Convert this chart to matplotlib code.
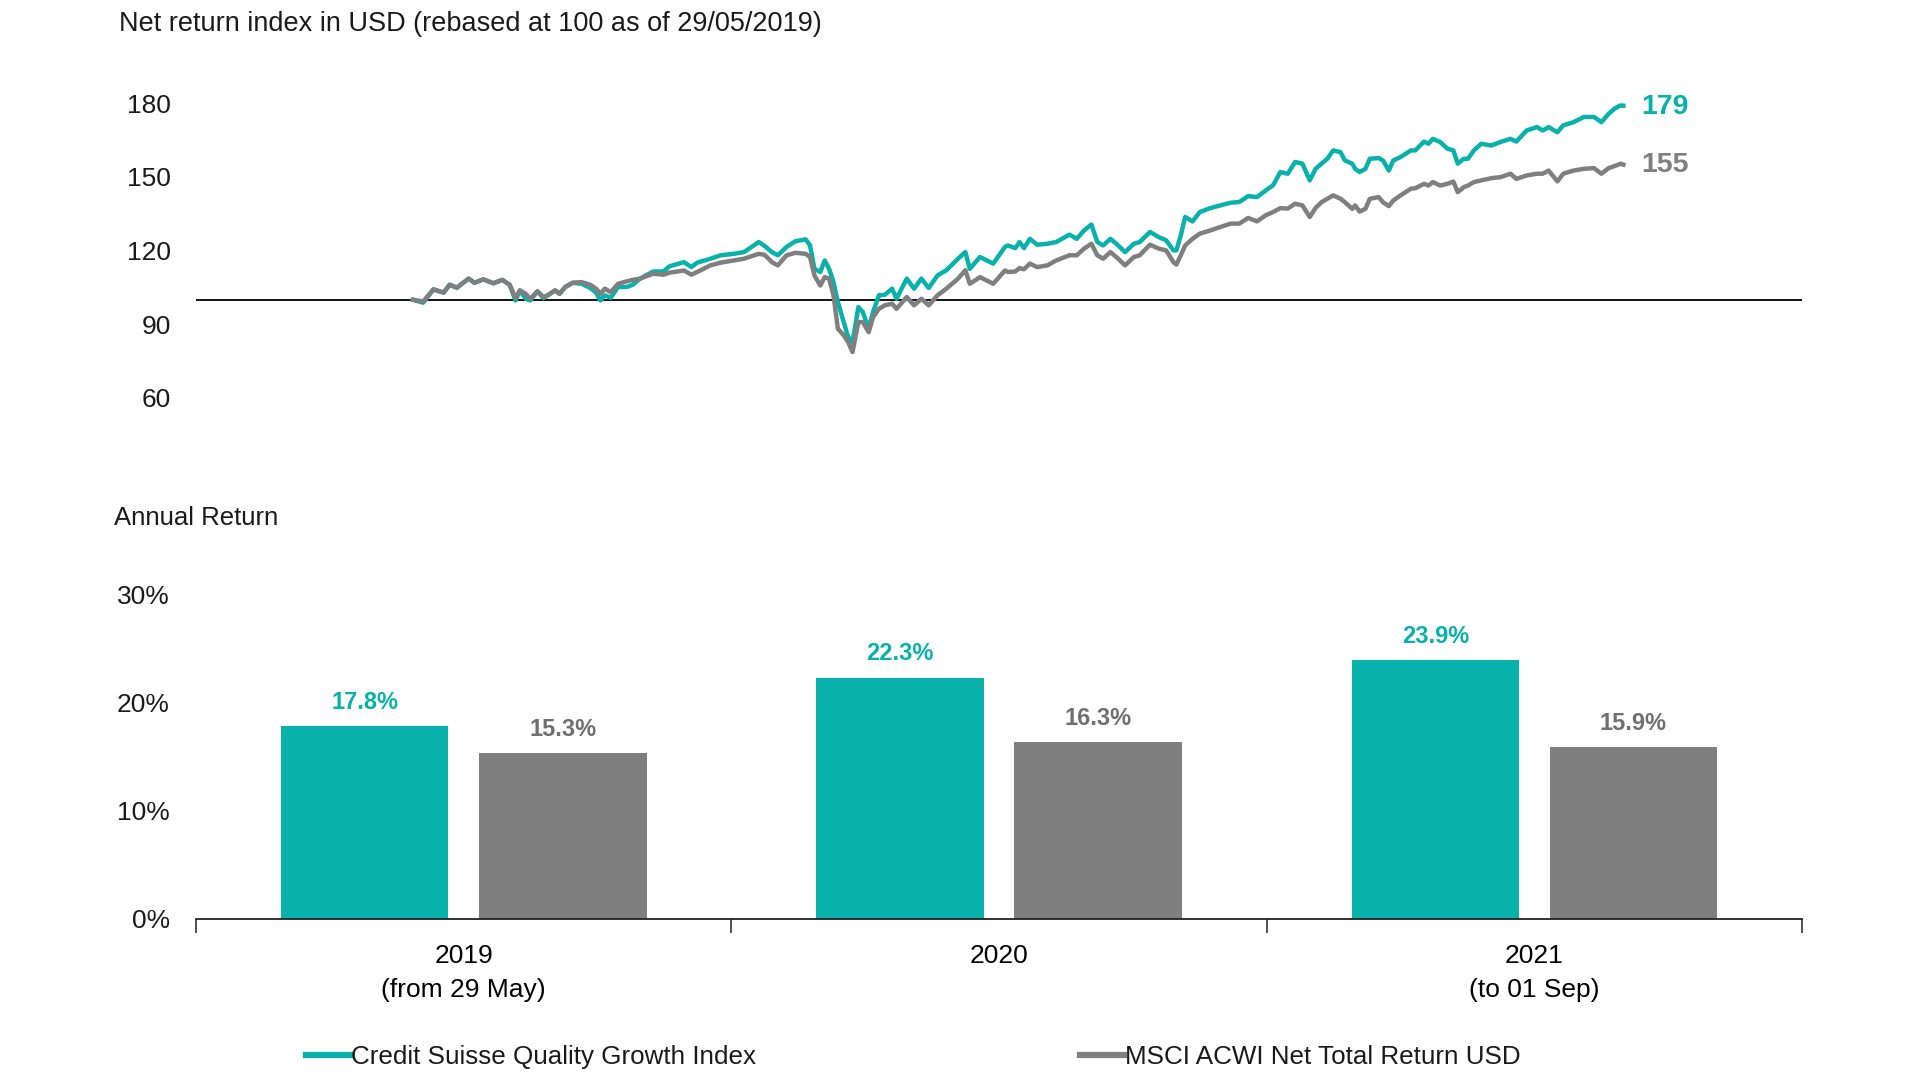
#!/usr/bin/env python3
"""
Net return index (rebased 100) and annual returns: CS Quality Growth vs MSCI ACWI.
"""

import matplotlib
matplotlib.use('Agg')
import matplotlib.pyplot as plt
import numpy as np
import pandas as pd

plt.rcParams['font.family'] = ['Liberation Sans', 'DejaVu Sans']
plt.rcParams['text.color'] = '#1a1a1a'

TEAL = '#08B1A9'
GREY = '#7F7F7F'

# ---- index levels ----
dates = [
    '2019-05-29', '2019-06-05', '2019-06-12', '2019-06-19', '2019-06-23', '2019-06-28',
    '2019-07-06', '2019-07-10', '2019-07-16', '2019-07-23', '2019-07-29', '2019-08-03',
    '2019-08-07', '2019-08-10', '2019-08-14', '2019-08-17', '2019-08-22', '2019-08-26',
    '2019-08-29', '2019-09-03', '2019-09-06', '2019-09-10', '2019-09-15', '2019-09-21',
    '2019-09-27', '2019-10-01', '2019-10-04', '2019-10-07', '2019-10-11', '2019-10-16',
    '2019-10-22', '2019-10-26', '2019-10-31', '2019-11-09', '2019-11-16', '2019-11-20',
    '2019-11-30', '2019-12-05', '2019-12-09', '2019-12-18', '2019-12-25', '2020-01-03',
    '2020-01-10', '2020-01-20', '2020-01-24', '2020-01-29', '2020-02-02', '2020-02-08',
    '2020-02-14', '2020-02-21', '2020-02-24', '2020-02-27', '2020-03-02', '2020-03-05',
    '2020-03-08', '2020-03-11', '2020-03-14', '2020-03-18', '2020-03-21', '2020-03-24',
    '2020-03-28', '2020-03-31', '2020-04-04', '2020-04-07', '2020-04-11', '2020-04-15',
    '2020-04-20', '2020-04-23', '2020-04-30', '2020-05-05', '2020-05-10', '2020-05-15',
    '2020-05-21', '2020-05-27', '2020-06-04', '2020-06-09', '2020-06-12', '2020-06-19',
    '2020-06-28', '2020-07-06', '2020-07-08', '2020-07-13', '2020-07-16', '2020-07-19',
    '2020-07-23', '2020-07-28', '2020-08-04', '2020-08-10', '2020-08-19', '2020-08-24',
    '2020-08-29', '2020-09-03', '2020-09-07', '2020-09-11', '2020-09-16', '2020-09-20',
    '2020-09-26', '2020-10-02', '2020-10-06', '2020-10-13', '2020-10-19', '2020-10-24',
    '2020-10-29', '2020-10-31', '2020-11-03', '2020-11-06', '2020-11-11', '2020-11-16',
    '2020-11-23', '2020-11-30', '2020-12-07', '2020-12-13', '2020-12-19', '2020-12-25',
    '2020-12-31', '2021-01-05', '2021-01-10', '2021-01-15', '2021-01-20', '2021-01-25',
    '2021-01-30', '2021-02-03', '2021-02-07', '2021-02-11', '2021-02-15', '2021-02-20',
    '2021-02-23', '2021-02-28', '2021-03-02', '2021-03-05', '2021-03-09', '2021-03-12',
    '2021-03-18', '2021-03-21', '2021-03-25', '2021-03-28', '2021-04-02', '2021-04-09',
    '2021-04-12', '2021-04-18', '2021-04-21', '2021-04-24', '2021-04-29', '2021-05-04',
    '2021-05-08', '2021-05-11', '2021-05-15', '2021-05-18', '2021-05-22', '2021-05-27',
    '2021-06-03', '2021-06-09', '2021-06-16', '2021-06-20', '2021-06-27', '2021-07-04',
    '2021-07-08', '2021-07-12', '2021-07-18', '2021-07-22', '2021-07-29', '2021-08-05',
    '2021-08-12', '2021-08-17', '2021-08-22', '2021-08-26', '2021-08-30', '2021-09-01',
]

cs_quality_growth = [
    100.0, 98.8, 104.2, 102.9, 106.1, 104.9,
    108.6, 106.9, 108.3, 106.7, 108.1, 106.1,
    99.7, 103.8, 100.4, 99.7, 103.4, 100.7,
    101.8, 103.8, 102.4, 105.2, 106.9, 106.5,
    104.8, 102.9, 99.7, 101.8, 100.8, 105.2,
    105.2, 106.1, 108.6, 111.5, 111.5, 113.6,
    115.3, 113.3, 115.1, 116.7, 118.1, 118.7,
    119.4, 123.5, 121.9, 119.4, 118.1, 121.5,
    123.8, 124.6, 122.1, 112.6, 111.3, 116.0,
    112.6, 107.2, 99.0, 90.9, 84.8, 82.8,
    97.0, 95.0, 88.2, 95.0, 101.8, 102.0,
    104.5, 100.4, 108.6, 104.5, 108.6, 104.8,
    109.9, 112.0, 116.7, 119.4, 112.6, 117.4,
    114.7, 121.5, 122.1, 121.0, 123.5, 121.0,
    124.8, 122.4, 122.8, 123.5, 126.5, 124.8,
    128.2, 130.6, 123.5, 122.1, 124.8, 122.8,
    119.4, 122.8, 123.5, 127.6, 125.5, 124.2,
    120.1, 120.1, 126.2, 133.7, 131.9, 135.7,
    137.3, 138.4, 139.5, 139.8, 142.2, 141.8,
    144.5, 146.6, 152.0, 151.3, 156.1, 155.4,
    148.6, 153.3, 155.4, 157.4, 160.8, 160.1,
    156.7, 155.4, 153.3, 152.0, 153.3, 157.4,
    157.7, 156.7, 152.6, 156.7, 158.1, 160.8,
    160.8, 164.4, 163.5, 165.5, 164.2, 161.5,
    160.8, 155.4, 157.4, 157.4, 160.8, 163.5,
    162.8, 164.2, 165.5, 164.4, 168.9, 170.3,
    168.9, 170.3, 168.2, 171.0, 172.3, 174.4,
    174.4, 172.3, 175.7, 177.8, 179.1, 179.0,
]

msci_acwi = [
    100.0, 99.3, 104.2, 102.9, 106.1, 104.9,
    108.6, 106.9, 108.3, 106.7, 108.1, 106.1,
    100.7, 103.8, 102.4, 100.4, 103.4, 101.1,
    101.8, 103.8, 102.4, 105.2, 106.9, 107.2,
    106.1, 104.5, 102.4, 104.5, 103.1, 106.5,
    107.5, 108.1, 108.6, 110.6, 110.2, 111.0,
    111.9, 110.2, 111.3, 114.0, 115.1, 116.0,
    116.7, 118.7, 118.3, 115.3, 114.0, 118.1,
    119.1, 118.7, 117.4, 109.9, 105.8, 109.2,
    108.6, 101.8, 88.2, 85.5, 82.8, 78.7,
    90.9, 90.9, 86.8, 92.9, 96.3, 97.7,
    98.4, 96.3, 101.1, 97.7, 100.4, 97.7,
    101.8, 104.5, 108.6, 112.0, 106.5, 109.2,
    106.5, 111.9, 111.3, 111.5, 112.9, 112.4,
    114.7, 113.3, 114.0, 116.0, 118.1, 118.1,
    120.8, 122.8, 118.1, 116.7, 119.4, 117.4,
    114.0, 117.4, 118.1, 122.4, 120.8, 120.1,
    115.3, 114.3, 118.1, 122.1, 124.8, 126.9,
    128.2, 129.6, 131.0, 131.0, 133.3, 131.9,
    134.4, 135.7, 137.3, 137.1, 139.1, 138.4,
    133.7, 137.4, 139.7, 141.1, 142.5, 141.1,
    139.7, 137.0, 138.4, 135.9, 137.0, 141.1,
    141.8, 139.7, 138.1, 140.4, 142.5, 145.2,
    145.4, 147.2, 146.5, 147.9, 146.5, 147.2,
    148.1, 143.8, 145.8, 146.5, 147.9, 148.6,
    149.5, 149.9, 151.3, 149.2, 150.6, 151.3,
    151.3, 152.6, 148.2, 151.3, 152.6, 153.3,
    153.6, 151.3, 153.6, 154.4, 155.4, 155.0,
]

# ---- annual returns ----
years = ['2019\n(from 29 May)', '2020', '2021\n(to 01 Sep)']
cs_annual = [17.8, 22.3, 23.9]
msci_annual = [15.3, 16.3, 15.9]

series_names = ['Credit Suisse Quality Growth Index', 'MSCI ACWI Net Total Return USD']

dates = pd.to_datetime(dates)

fig = plt.figure(figsize=(19.2, 10.8), dpi=100)

# ---------------- top: index lines ----------------
ax1 = fig.add_axes([0.1021, 0.6315, 0.8365, 0.2729])
l_cs, = ax1.plot(dates, cs_quality_growth, color=TEAL, lw=3.2, solid_joinstyle='round', zorder=3)
l_ms, = ax1.plot(dates, msci_acwi, color=GREY, lw=3.2, solid_joinstyle='round', zorder=4)
ax1.axhline(100, color='black', lw=1.3, zorder=2)

ax1.set_xlim(pd.Timestamp('2019-01-01'), pd.Timestamp('2022-01-01'))
ax1.set_ylim(60, 180)
ax1.set_yticks([60, 90, 120, 150, 180])
ax1.set_xticks([])
ax1.tick_params(axis='y', length=0, pad=18, labelsize=19, labelcolor='#1a1a1a')
for s in ax1.spines.values():
    s.set_visible(False)

ax1.annotate(f'{cs_quality_growth[-1]:.0f}', xy=(dates[-1], cs_quality_growth[-1]),
             xytext=(13, -1), textcoords='offset points', va='center', ha='left',
             fontsize=20.5, fontweight='bold', color=TEAL)
ax1.annotate(f'{msci_acwi[-1]:.0f}', xy=(dates[-1], msci_acwi[-1]),
             xytext=(13, 0), textcoords='offset points', va='center', ha='left',
             fontsize=20.5, fontweight='bold', color=GREY)

fig.text(119 / 1920, 1 - 24 / 1080, 'Net return index in USD (rebased at 100 as of 29/05/2019)',
         fontsize=19.5, va='center', ha='left')

# ---------------- bottom: annual returns ----------------
ax2 = fig.add_axes([0.1021, 0.1495, 0.8365, 0.3002])
x = np.arange(len(years))
width = 0.313
off = 0.185
b1 = ax2.bar(x - off, cs_annual, width, color=TEAL, zorder=2)
b2 = ax2.bar(x + off, msci_annual, width, color=GREY, zorder=2)

for rect, val in zip(b1, cs_annual):
    ax2.annotate(f'{val:.1f}%', xy=(rect.get_x() + rect.get_width() / 2, val),
                 xytext=(0, 17), textcoords='offset points', ha='center', va='center',
                 fontsize=17, fontweight='bold', color=TEAL)
for rect, val in zip(b2, msci_annual):
    ax2.annotate(f'{val:.1f}%', xy=(rect.get_x() + rect.get_width() / 2, val),
                 xytext=(0, 17), textcoords='offset points', ha='center', va='center',
                 fontsize=17, fontweight='bold', color='#6f6f6f')

ax2.set_xlim(-0.5, len(years) - 0.5)
ax2.set_ylim(0, 30)
ax2.set_yticks([0, 10, 20, 30])
ax2.set_yticklabels([f'{v}%' for v in [0, 10, 20, 30]])
ax2.tick_params(axis='y', length=0, pad=19, labelsize=19, labelcolor='#1a1a1a')

# boundary tick marks, labels centred on categories
ax2.set_xticks(np.arange(-0.5, len(years), 1.0))
ax2.set_xticklabels([])
ax2.tick_params(axis='x', which='major', direction='out', length=10, width=1.2, color='#333333')
ax2.set_xticks(x, minor=True)
ax2.set_xticklabels(years, minor=True, fontsize=19, linespacing=1.55)
ax2.tick_params(axis='x', which='minor', length=0, pad=18)

for side in ['top', 'right', 'left']:
    ax2.spines[side].set_visible(False)
ax2.spines['bottom'].set_linewidth(1.3)
ax2.spines['bottom'].set_color('#222222')

fig.text(114 / 1920, 1 - 518 / 1080, 'Annual Return', fontsize=18.5, va='center', ha='left')

# ---------------- legend ----------------
fig.legend([l_cs, l_ms], series_names, loc='center left',
           bbox_to_anchor=(306 / 1920, 1 - 1057 / 1080), ncol=2, frameon=False,
           fontsize=18.7, handlelength=1.7, handletextpad=0.05, columnspacing=12.45,
           borderpad=0, borderaxespad=0)
for h in fig.legends[0].get_lines():
    h.set_linewidth(4.5)

fig.savefig('out.png', dpi=100)
